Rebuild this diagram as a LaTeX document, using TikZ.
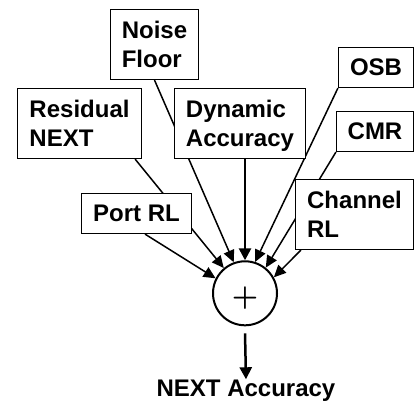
\documentclass[tikz,border=0pt]{standalone}
\usepackage{fontspec}
\usepackage{graphicx}
\setmainfont{Liberation Sans}
\usetikzlibrary{arrows.meta,calc,backgrounds}
\begin{document}
\begin{tikzpicture}[x=1pt,y=-1pt,
  box/.style={draw,line width=1.2pt,fill=white,align=left,inner sep=0pt,
    font=\fontsize{24}{29}\selectfont\bfseries,text depth=0pt},
  onebox/.style={box,minimum height=40pt},
  twobox/.style={box,minimum height=70pt},
  conn/.style={line width=1.5pt,-{Triangle[length=12pt,width=11pt]}},
  bigconn/.style={line width=2.5pt,-{Triangle[length=12pt,width=12pt]}},
  sumnode/.style={draw,circle,line width=2pt,minimum size=64pt,inner sep=0pt,
    text height=23.8pt,text depth=0pt}
]
\useasboundingbox (0,0) rectangle (415,402);
% boxes
\node[twobox,minimum width=88pt] (nf) at (154.5,44.5) {Noise\\Floor};
\node[twobox,minimum width=124pt] (rn) at (79.5,123.5) {Residual\\NEXT};
\node[twobox,minimum width=131pt] (da) at (240,123.5) {Dynamic\\Accuracy};
\node[onebox,minimum width=75pt] (osb) at (376,67.5) {OSB};
\node[onebox,minimum width=77pt] (cmr) at (375,131.5) {CMR};
\node[twobox,minimum width=118pt] (ch) at (354.5,214.5) {Channel\\RL};
\node[onebox,minimum width=110pt] (pr) at (136.5,213.5) {Port RL};
% summing junction
\node[sumnode] (sum) at (245,293.3) {\scalebox{2.95}{\boldmath$+$}};
% output label
\node[anchor=base,inner sep=0pt,font=\fontsize{24}{29}\selectfont\bfseries] (out) at (246,396) {NEXT Accuracy};
% connectors
\begin{scope}[on background layer]
\draw[conn] (nf.south) -- (sum.110);
\draw[conn] ($(rn.south east)+(-7,0)$) -- (sum.130);
\draw[conn] ($(pr.south)+(8.5,0)$) -- (sum.153);
\draw[bigconn] (sum.north |- da.south) -- (sum.90);
\draw[conn] (osb.south west) -- (sum.72);
\draw[conn] (cmr.south west) -- (sum.51);
\draw[conn] ($(ch.south west)+(6,0)$) -- (sum.29);
\end{scope}
\coordinate (o1) at ($(sum.south)+(0,7)$);
\draw[bigconn] (o1) -- (out.north);
\end{tikzpicture}
\end{document}
